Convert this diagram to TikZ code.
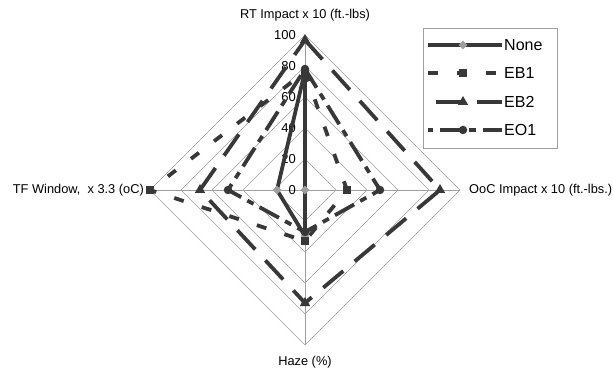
\documentclass[tikz,border=0pt]{standalone}
\usepackage{fontspec}
\setmainfont{Liberation Sans}
\usetikzlibrary{shapes.geometric}
\definecolor{seriesgray}{gray}{0.22}
\definecolor{gridgray}{gray}{0.62}
\definecolor{nonegray}{gray}{0.62}
\begin{document}
\begin{tikzpicture}[x=1pt,y=1pt,
    grid/.style={draw=gridgray,line width=0.6pt},
    serie/.style={draw=seriesgray,line width=3.8pt,line join=round},
    noneline/.style={serie},
    eboneline/.style={serie,dash pattern=on 10pt off 19pt},
    ebtwoline/.style={serie,dash pattern=on 26pt off 15pt},
    eooneline/.style={serie,dash pattern=on 22pt off 7pt on 7pt off 7pt},
    nonemk/.style={diamond,fill=nonegray,inner sep=0pt,minimum size=9pt},
    ebonemk/.style={rectangle,fill=seriesgray,inner sep=0pt,minimum size=8pt},
    ebtwomk/.style={regular polygon,regular polygon sides=3,fill=seriesgray,inner sep=0pt,minimum size=12pt},
    eoonemk/.style={circle,fill=seriesgray,inner sep=0pt,minimum size=8.5pt},
    axlabel/.style={font=\fontsize{12.8}{14}\selectfont,inner sep=0pt},
    ticklabel/.style={font=\fontsize{13}{14}\selectfont,anchor=east,inner sep=0pt},
    legtext/.style={font=\fontsize{16}{18}\selectfont,anchor=west,inner sep=0pt}]
  \useasboundingbox (-305,-179) rectangle (308,190);

  % axes and grid
  \coordinate (o) at (0,0);
  \coordinate (rt) at (0,155);
  \coordinate (ooc) at (155,0);
  \coordinate (haze) at (0,-155);
  \coordinate (tf) at (-155,0);
  \foreach \r in {31,62,93,124,155}
    \draw[grid] (0,\r) -- (\r,0) -- (0,-\r) -- (-\r,0) -- cycle;
  \draw[grid] (o) -- (rt);
  \draw[grid] (o) -- (ooc);
  \draw[grid] (o) -- (haze);
  \draw[grid] (o) -- (tf);
  \foreach \v in {0,20,40,60,80,100}
    \node[ticklabel] (tick\v) at (-9,1.55*\v) {\v};

  \node[axlabel] (rtlabel) at (0,175) {RT Impact x 10 (ft.-lbs)};
  \node[axlabel,anchor=west] (ooclabel) at (164,0) {OoC Impact x 10 (ft.-lbs.)};
  \node[axlabel] (hazelabel) at (0,-172) {Haze (\%)};
  \node[axlabel,anchor=east] (tflabel) at (-161,0) {TF Window,\ \ x 3.3 (oC)};

  % None
  \coordinate (none1) at (0,119);
  \coordinate (none2) at (0,0);
  \coordinate (none3) at (0,-46);
  \coordinate (none4) at (-28,0);
  \draw[noneline] (none1) -- (none2) -- (none3) -- (none4) -- cycle;
  \foreach \p in {none1,none2,none3,none4} \node[nonemk] at (\p) {};

  % EB1
  \coordinate (ebone1) at (0,118);
  \coordinate (ebone2) at (42,0);
  \coordinate (ebone3) at (0,-51);
  \coordinate (ebone4) at (-155,0);
  \draw[eboneline] (ebone1) -- (ebone2) -- (ebone3) -- (ebone4) -- cycle;
  \foreach \p in {ebone1,ebone2,ebone3,ebone4} \node[ebonemk] at (\p) {};

  % EB2
  \coordinate (ebtwo1) at (0,150);
  \coordinate (ebtwo2) at (135,0);
  \coordinate (ebtwo3) at (0,-113);
  \coordinate (ebtwo4) at (-105,0);
  \draw[ebtwoline] (ebtwo1) -- (ebtwo2) -- (ebtwo3) -- (ebtwo4) -- cycle;
  \foreach \p in {ebtwo1,ebtwo2,ebtwo3,ebtwo4} \node[ebtwomk] at (\p) {};

  % EO1
  \coordinate (eoone1) at (0,121);
  \coordinate (eoone2) at (75,0);
  \coordinate (eoone3) at (0,-42);
  \coordinate (eoone4) at (-77,0);
  \draw[eooneline] (eoone1) -- (eoone2) -- (eoone3) -- (eoone4) -- cycle;
  \foreach \p in {eoone1,eoone2,eoone3,eoone4} \node[eoonemk] at (\p) {};

  % legend
  \draw[draw=gridgray,line width=0.6pt] (118,42) rectangle (252,162);
  \coordinate (lnonea) at (123,145);
  \coordinate (lnoneb) at (197,145);
  \coordinate (lebonea) at (123,117);
  \coordinate (leboneb) at (197,117);
  \coordinate (lebtwoa) at (123,88);
  \coordinate (lebtwob) at (197,88);
  \coordinate (leoonea) at (123,60);
  \coordinate (leooneb) at (197,60);
  \draw[noneline] (lnonea) -- (lnoneb);
  \draw[eboneline] (lebonea) -- (leboneb);
  \draw[ebtwoline,dash phase=-8pt] (lebtwoa) -- (lebtwob);
  \draw[eooneline,dash phase=-12pt] (leoonea) -- (leooneb);
  \node[nonemk] (mnone) at (158,145) {};
  \node[ebonemk] (mebone) at (158,117) {};
  \node[ebtwomk] (mebtwo) at (158,88) {};
  \node[eoonemk] (meoone) at (158,60) {};
  \node[legtext] (tnone) at (199,145) {None};
  \node[legtext] (tebone) at (199,117) {EB1};
  \node[legtext] (tebtwo) at (199,88) {EB2};
  \node[legtext] (teoone) at (199,60) {EO1};
\end{tikzpicture}
\end{document}
